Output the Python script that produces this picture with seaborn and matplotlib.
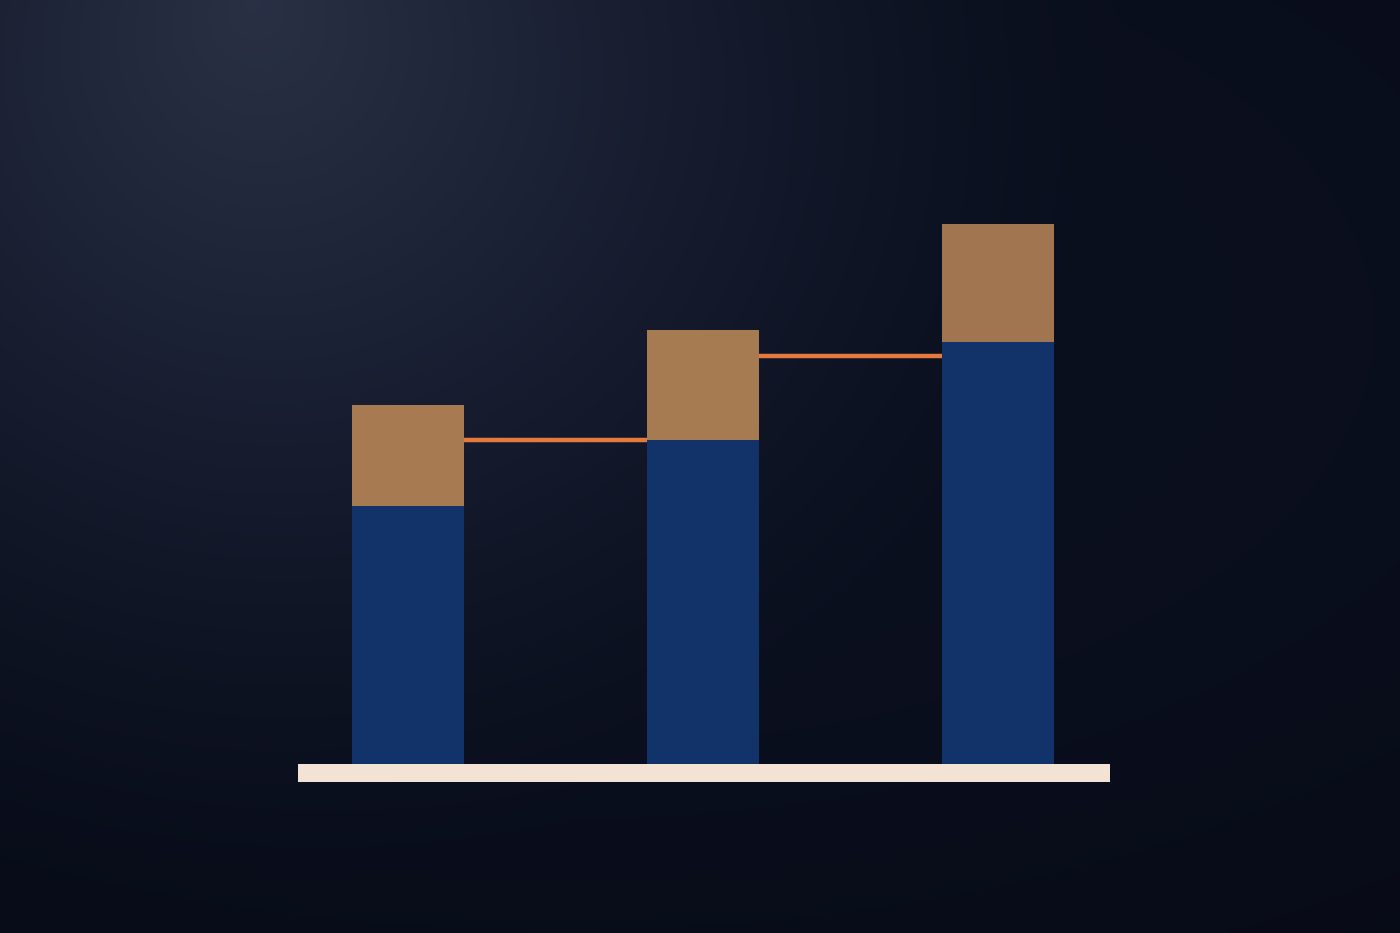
import numpy as np
import pandas as pd
import matplotlib
matplotlib.use("Agg")
import matplotlib.pyplot as plt
import seaborn as sns

# ---- data ----
categories = ["A", "B", "C"]
base_values = [47.8, 60.0, 78.1]      # blue lower segment
top_values = [18.7, 20.4, 21.9]       # tan upper segment
connector_levels = [60.0, 75.6]       # orange connector heights between bars

sns.set_theme(style="white")

W, H, DPI = 14, 9.33, 100
fig = plt.figure(figsize=(W, H), dpi=DPI)
ax = fig.add_axes([0, 0, 1, 1])

# axis limits (layout)
xlim = (-1.382, 3.364)
ylim = (-31.3, 141.5)
ax.set_xlim(*xlim)
ax.set_ylim(*ylim)

# background: dark navy with soft light at top-left
ny, nx = 467, 700
yy, xx = np.mgrid[0:ny, 0:nx]
xn = xx / nx
yn = yy / ny
d = np.sqrt(((xn - 0.18) / 0.62) ** 2 + ((yn - 0.0) / 0.95) ** 2)
glow = np.clip(1 - d, 0, 1) ** 1.4
dark = np.array([0x0B, 0x10, 0x20]) / 255
light = np.array([0x2C, 0x34, 0x4A]) / 255
img = dark[None, None, :] + (light - dark)[None, None, :] * glow[..., None]
# vignette darken edges
vig = np.clip(0.3 * ((xn - 0.4) ** 2) + 0.5 * ((yn - 0.35) ** 2), 0, 0.35)
img = img * (1 - vig[..., None] * 0.9)
ax.imshow(img, extent=(xlim[0], xlim[1], ylim[0], ylim[1]), origin="upper",
          aspect="auto", zorder=0, interpolation="bilinear")

df = pd.DataFrame({"cat": categories, "base": base_values,
                   "total": np.array(base_values) + np.array(top_values)})

bar_w = 0.38
sns.barplot(data=df, x="cat", y="total", hue="cat",
            palette=["#A87A51", "#A77B51", "#A1754F"], width=bar_w,
            saturation=1, ax=ax, zorder=2, linewidth=0, legend=False)
sns.barplot(data=df, x="cat", y="base", color="#12326A", width=bar_w,
            saturation=1, ax=ax, zorder=3, linewidth=0)
ax.set_xlim(*xlim)
ax.set_ylim(*ylim)

# connector lines
for i, lvl in enumerate(connector_levels):
    ax.hlines(lvl, i + bar_w / 2, i + 1 - bar_w / 2, color="#E47A3E",
              linewidth=3.2, zorder=4)

# baseline plate
ax.fill_between([-0.373, 2.38], -3.3, 0, color="#F2E3D5", zorder=5, linewidth=0)

ax.set_axis_off()

fig.savefig("out.png", dpi=DPI)
